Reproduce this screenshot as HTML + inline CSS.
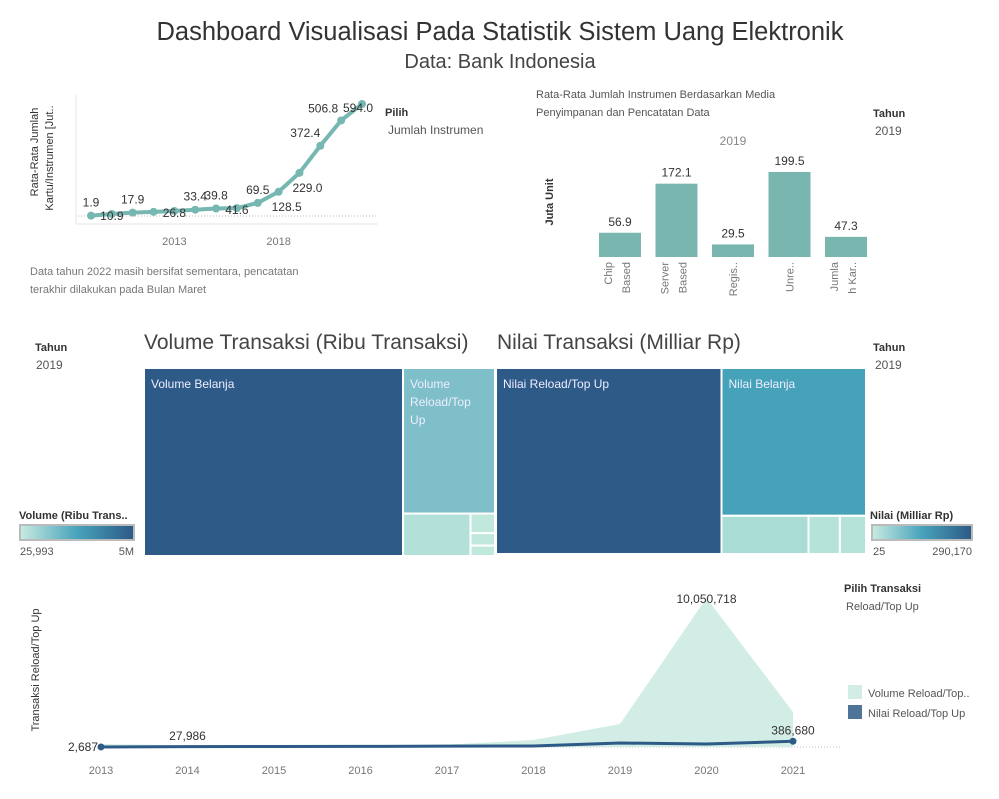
<!DOCTYPE html>
<html><head><meta charset="utf-8"><style>
body{margin:0;background:#fff;}
svg{display:block;font-family:"Liberation Sans",sans-serif;}
</style></head><body>
<svg id="s" width="999" height="799" viewBox="0 0 999 799">
<text x="500" y="40" text-anchor="middle" font-size="25.5" fill="#333">Dashboard Visualisasi Pada Statistik Sistem Uang Elektronik</text>
<text x="500" y="68" text-anchor="middle" font-size="20" fill="#444">Data: Bank Indonesia</text>

<g id="line1">
<text transform="translate(38,152) rotate(-90)" text-anchor="middle" font-size="11" fill="#333">Rata-Rata Jumlah</text>
<text transform="translate(53,158) rotate(-90)" text-anchor="middle" font-size="11" fill="#333">Kartu/Instrumen [Jut..</text>
<line x1="76" y1="95" x2="76" y2="224" stroke="#e6e6e6"/>
<line x1="76" y1="224" x2="378" y2="224" stroke="#e6e6e6"/>
<line x1="78" y1="216" x2="378" y2="216" stroke="#bbb" stroke-dasharray="1,2"/>
<text x="385" y="116" font-size="11" font-weight="bold" fill="#333">Pilih</text>
<text x="388" y="134" font-size="12" fill="#555">Jumlah Instrumen</text>
<text x="30" y="275" font-size="11" fill="#777">Data tahun 2022 masih bersifat sementara, pencatatan</text>
<text x="30" y="293" font-size="11" fill="#777">terakhir dilakukan pada Bulan Maret</text>
</g>

<g id="bars">
<text x="536" y="98" font-size="11" fill="#555">Rata-Rata Jumlah Instrumen Berdasarkan Media</text>
<text x="536" y="116" font-size="11" fill="#555">Penyimpanan dan Pencatatan Data</text>
<text x="733" y="145" text-anchor="middle" font-size="12" fill="#888">2019</text>
<text transform="translate(553,202) rotate(-90)" text-anchor="middle" font-size="11" font-weight="bold" fill="#333">Juta Unit</text>
<text x="873" y="117" font-size="11" font-weight="bold" fill="#333">Tahun</text>
<text x="875" y="135" font-size="12" fill="#555">2019</text>
</g>

<g id="tm">
<text x="35" y="351" font-size="11" font-weight="bold" fill="#333">Tahun</text>
<text x="36" y="369" font-size="12" fill="#555">2019</text>
<text x="873" y="351" font-size="11" font-weight="bold" fill="#333">Tahun</text>
<text x="875" y="369" font-size="12" fill="#555">2019</text>
<text x="144" y="349" font-size="21" fill="#444">Volume Transaksi (Ribu Transaksi)</text>
<text x="497" y="349" font-size="21" fill="#444">Nilai Transaksi (Milliar Rp)</text>
<defs><linearGradient id="g1" x1="0" x2="1"><stop offset="0" stop-color="#c9ebe2"/><stop offset="0.5" stop-color="#48a3bb"/><stop offset="1" stop-color="#2c5986"/></linearGradient></defs>
<text x="19" y="519" font-size="11" font-weight="bold" fill="#333">Volume (Ribu Trans..</text>
<rect x="20" y="525" width="114" height="15" fill="url(#g1)" stroke="#bbb" stroke-width="2"/>
<text x="20" y="555" font-size="11" fill="#555">25,993</text>
<text x="134" y="555" text-anchor="end" font-size="11" fill="#555">5M</text>
<text x="870" y="519" font-size="11" font-weight="bold" fill="#333">Nilai (Milliar Rp)</text>
<rect x="872" y="525" width="100" height="15" fill="url(#g1)" stroke="#bbb" stroke-width="2"/>
<text x="873" y="555" font-size="11" fill="#555">25</text>
<text x="972" y="555" text-anchor="end" font-size="11" fill="#555">290,170</text>
</g>

<g id="area">
<text transform="translate(39,670) rotate(-90)" text-anchor="middle" font-size="11" fill="#333">Transaksi Reload/Top Up</text>
<text x="844" y="592" font-size="11" font-weight="bold" fill="#333">Pilih Transaksi</text>
<text x="846" y="610" font-size="11" fill="#555">Reload/Top Up</text>
<rect x="848" y="685" width="14" height="14" fill="#d2ede5"/>
<text x="868" y="697" font-size="11" fill="#555">Volume Reload/Top..</text>
<rect x="848" y="705" width="14" height="14" fill="#4e7599"/>
<text x="868" y="717" font-size="11" fill="#555">Nilai Reload/Top Up</text>
<line x1="80" y1="747" x2="840" y2="747" stroke="#bbb" stroke-dasharray="1,2"/>
</g>
</svg>
<script>
// ---- line chart data ----
const lineYears=[2009,2010,2011,2012,2013,2014,2015,2016,2017,2018,2019,2020,2021,2022];
const lineValues=[1.9,10.9,17.9,22,26.8,33.4,39.8,41.6,69.5,128.5,229.0,372.4,506.8,594.0];
const lineLabels=["1.9","10.9","17.9","","26.8","33.4","39.8","41.6","69.5","128.5","229.0","372.4","506.8","594.0"];
const lineTicks=[2013,2018];
// ---- bar chart data ----
const barCats=[["Chip","Based"],["Server","Based"],["Regis.."],["Unre.."],["Jumla","h Kar.."]];
const barValues=[56.9,172.1,29.5,199.5,47.3];
// ---- treemap data ----
const volNames=["Volume Belanja","Volume Reload/Top Up","v3","v4","v5","v6"];
const volValues=[4970000,1366000,292000,49000,31000,26000];
const nilNames=["Nilai Reload/Top Up","Nilai Belanja","n3","n4","n5"];
const nilValues=[290170,147700,23000,8300,6900];
// ---- area chart data ----
const areaYears=[2013,2014,2015,2016,2017,2018,2019,2020,2021];
const volReload=[200000,110000,60000,90000,160000,470000,1550000,10050718,2360000];
const nilReload=[2687,27986,30000,40000,55000,70000,270000,200000,386680];
const areaLabels={0:"2,687",1:"27,986",7:"10,050,718",8:"386,680"};

const NS="http://www.w3.org/2000/svg";
function mk(parent,tag,attrs,txt){const e=document.createElementNS(NS,tag);for(const k in attrs)e.setAttribute(k,attrs[k]);if(txt!==undefined)e.textContent=txt;parent.appendChild(e);return e;}

// line chart
(function(){
 const g=document.getElementById('line1');
 const x=y=>91+(y-2009)*(271/13);
 const yv=v=>216-v*(112/594);
 // label placement: 1 above, -1 below, 2 right
 const place=[1,-1,1,0,-1,1,1,-1,1,-1,-1,1,1,2];
 let d=lineValues.map((v,i)=>(i?'L':'M')+x(lineYears[i])+','+yv(v)).join(' ');
 const p=mk(g,'path',{d:d,fill:'none',stroke:'#76b7b1','stroke-width':4,'stroke-linejoin':'round'});
 
 
 lineValues.forEach((v,i)=>{
  const c=mk(g,'circle',{cx:x(lineYears[i]),cy:yv(v),r:4,fill:'#76b7b1'});
  
  
  if(lineLabels[i]){
   let tx=x(lineYears[i]),ty=yv(v)-9,anc='middle';
   if(place[i]===-1){ty=yv(v)+(i>=9?19:6);tx+=(i>=9?8:0);}
   if(i===11){tx-=15;ty=yv(v)-9;}
   if(i===12){tx-=18;ty=yv(v)-8;}
   if(place[i]===2){tx-=4;ty=yv(v)+8;}
   const t=mk(g,'text',{x:tx,y:ty,'text-anchor':anc,'font-size':12,fill:'#333'},lineLabels[i]);
   
   
  }
 });
 lineTicks.forEach(y=>{
  const t=mk(g,'text',{x:x(y),y:245,'text-anchor':'middle','font-size':11,fill:'#777'},String(y));
  
  
 });
})();

// bar chart
(function(){
 const g=document.getElementById('bars');
 const base=257, k=85/199.5;
 barValues.forEach((v,i)=>{
  const x0=599+i*56.5, h=v*k;
  const r=mk(g,'rect',{x:x0,y:base-h,width:42,height:h,fill:'#79b6b0'});
  
  
  const t=mk(g,'text',{x:x0+21,y:base-h-7,'text-anchor':'middle','font-size':12,fill:'#333'},v.toFixed(1));
  
  
  barCats[i].forEach((s,j)=>{
   const n=barCats[i].length;
   const cx=x0+21+(n===1?4:(j===0?-8:10));
   const tt=mk(g,'text',{transform:'translate('+cx+','+(base+5)+') rotate(-90)','text-anchor':'end','font-size':11,fill:'#777'},s);
   
   
  });
 });
})();

// treemaps
(function(){
 const g=document.getElementById('tm');
 function cell(x,y,w,h,fill,name,label,lines){
  const r=mk(g,'rect',{x:x,y:y,width:Math.max(w,0),height:Math.max(h,0),fill:fill,stroke:'#fff','stroke-width':2});
  
  
  if(lines){lines.forEach((s,j)=>{const t=mk(g,'text',{x:x+7,y:y+20+j*18,'font-size':12,fill:'#eef'},s);
   
   });}
 }
 let X=144,Y=368,W=351,H=188;
 let tot=volValues.reduce((a,b)=>a+b,0);
 let w0=W*volValues[0]/tot;
 cell(X,Y,w0,H,'#2e5a87','tm-volume-belanja',null,[volNames[0]]);
 let rest=tot-volValues[0], rx=X+w0, rw=W-w0;
 let h1=H*volValues[1]/rest;
 cell(rx,Y,rw,h1,'#7fbfc9','tm-volume-reload',null,['Volume','Reload/Top','Up']);
 let rest2=rest-volValues[1], by=Y+h1, bh=H-h1;
 let w2=rw*volValues[2]/rest2;
 cell(rx,by,w2,bh,'#b3e0d8','tm-volume-3');
 let rest3=rest2-volValues[2], yy=by;
 for(let i=3;i<volValues.length;i++){const hh=bh*volValues[i]/rest3;cell(rx+w2,yy,rw-w2,hh,'#c1e8dc','tm-volume-'+(i+1));yy+=hh;}
 X=496;Y=368;W=370;H=186;
 tot=nilValues.reduce((a,b)=>a+b,0);
 w0=W*nilValues[0]/tot;
 cell(X,Y,w0,H,'#2e5a87','tm-nilai-reload',null,[nilNames[0]]);
 rest=tot-nilValues[0]; rx=X+w0; rw=W-w0;
 h1=H*nilValues[1]/rest;
 cell(rx,Y,rw,h1,'#45a2b9','tm-nilai-belanja',null,[nilNames[1]]);
 rest2=rest-nilValues[1]; by=Y+h1; bh=H-h1;
 let xx=rx;
 for(let i=2;i<nilValues.length;i++){const ww=rw*nilValues[i]/rest2;cell(xx,by,ww,bh,i===2?'#a9dcd5':'#b6e3d9','tm-nilai-'+(i+1));xx+=ww;}
})();

// area chart
(function(){
 const g=document.getElementById('area');
 const x=y=>101+(y-2013)*86.5;
 const yv=v=>747-v*(149/10050718);
 let d='M'+x(areaYears[0])+',747 '+volReload.map((v,i)=>'L'+x(areaYears[i])+','+yv(v)).join(' ')+' L'+x(areaYears[areaYears.length-1])+',747 Z';
 const a=mk(g,'path',{d:d,fill:'#d2ede5'});
 
 
 let d2=nilReload.map((v,i)=>(i?'L':'M')+x(areaYears[i])+','+yv(v)).join(' ');
 const l=mk(g,'path',{d:d2,fill:'none',stroke:'#2e5a87','stroke-width':3});
 
 
 [0,areaYears.length-1].forEach(i=>{const c=mk(g,'circle',{cx:x(areaYears[i]),cy:yv(nilReload[i]),r:3.5,fill:'#2e5a87'});
  
  });
 for(const k in areaLabels){const i=+k;
  let tx=x(areaYears[i]),ty,anc='middle';
  if(i===0){tx-=3;ty=751;anc='end';}
  else if(i===7){ty=yv(volReload[i])+5;}
  else if(i===1){ty=740;}
  else {ty=yv(nilReload[i])-7;}
  const t=mk(g,'text',{x:tx,y:ty,'text-anchor':anc,'font-size':12,fill:'#333'},areaLabels[k]);
  
  }
 areaYears.forEach(y=>{const t=mk(g,'text',{x:x(y),y:774,'text-anchor':'middle','font-size':11,fill:'#777'},String(y));
  
  });
})();
</script>
</body></html>
